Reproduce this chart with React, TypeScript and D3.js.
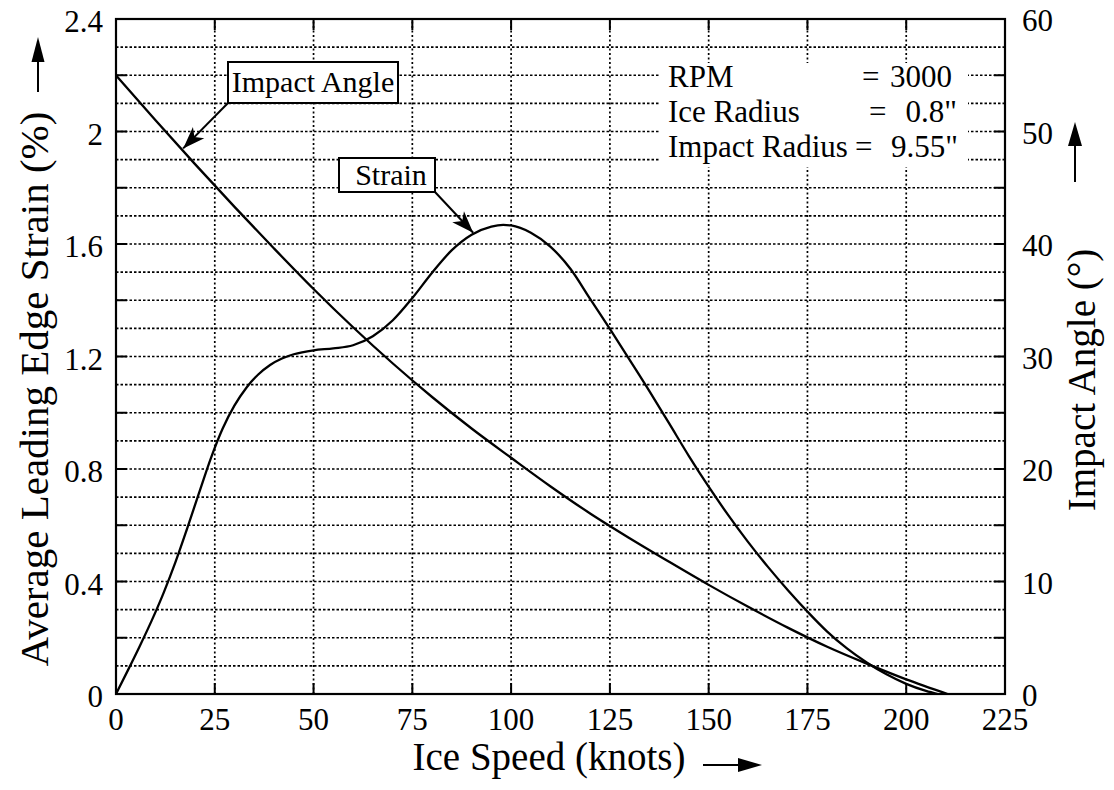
import React from 'react';
import * as d3 from 'd3';

// ---- Data ----
const strainSpeed = [0, 3, 6, 9, 12, 15, 18, 21, 24, 27, 30, 33, 36, 39, 42, 45, 50, 55, 60, 65, 70, 75, 80, 85, 90, 95, 98, 100, 105, 110, 115, 120, 125, 130, 135, 140, 145, 150, 155, 160, 165, 170, 175, 180, 185, 190, 195, 200, 205, 208];
const strainValues = [0, 0.084, 0.17, 0.26, 0.358, 0.467, 0.588, 0.714, 0.838, 0.944, 1.026, 1.089, 1.136, 1.17, 1.193, 1.208, 1.222, 1.229, 1.24, 1.272, 1.328, 1.408, 1.498, 1.578, 1.633, 1.662, 1.668, 1.666, 1.64, 1.59, 1.512, 1.405, 1.298, 1.188, 1.077, 0.962, 0.846, 0.737, 0.635, 0.54, 0.452, 0.37, 0.293, 0.222, 0.162, 0.112, 0.07, 0.036, 0.011, 0];

const angleSpeed = [0, 10, 20, 30, 40, 50, 60, 70, 80, 90, 100, 110, 120, 130, 140, 150, 160, 170, 180, 190, 200, 210.5];
const angleValues = [55, 51, 47.1, 43.3, 39.6, 36.0, 32.6, 29.4, 26.4, 23.6, 21.0, 18.45, 16.05, 13.85, 11.75, 9.7, 7.75, 5.9, 4.2, 2.7, 1.3, 0];

const xTicks = [0, 25, 50, 75, 100, 125, 150, 175, 200, 225];
const yTicks = [0, 0.4, 0.8, 1.2, 1.6, 2, 2.4];
const yTickLabels = ['0', '0.4', '0.8', '1.2', '1.6', '2', '2.4'];
const yRTicks = [0, 10, 20, 30, 40, 50, 60];

const infoLabels = ['RPM', 'Ice Radius', 'Impact Radius'];
const infoValues = ['3000', '0.8"', '9.55"'];

const FONT = "'Liberation Serif','Times New Roman',serif";

function arrowHead(tx: number, ty: number, fx: number, fy: number, len: number, w: number, notch: number) {
  const dx = tx - fx, dy = ty - fy;
  const L = Math.hypot(dx, dy);
  const ux = dx / L, uy = dy / L;
  const nx = -uy, ny = ux;
  const bx = tx - ux * len, by = ty - uy * len;
  const p1 = [bx + nx * w, by + ny * w];
  const p2 = [tx - ux * (len - notch), ty - uy * (len - notch)];
  const p3 = [bx - nx * w, by - ny * w];
  return `M${tx},${ty}L${p1[0]},${p1[1]}L${p2[0]},${p2[1]}L${p3[0]},${p3[1]}Z`;
}

export default function App() {
  const x = d3.scaleLinear().domain([0, 225]).range([116, 1005]);
  const y = d3.scaleLinear().domain([0, 2.4]).range([694, 19]);
  const yR = d3.scaleLinear().domain([0, 60]).range([694, 19]);

  const strainLine = d3.line<number>()
    .x((_, i) => x(strainSpeed[i]))
    .y(d => y(d))
    .curve(d3.curveMonotoneX);
  const angleLine = d3.line<number>()
    .x((_, i) => x(angleSpeed[i]))
    .y(d => yR(d))
    .curve(d3.curveMonotoneX);

  const hGrid = d3.range(1, 24).map(i => i / 10);
  const vGrid = d3.range(1, 9).map(i => i * 25);
  const leftMinor = d3.range(1, 12).map(i => i * 0.2);
  const rightMinor = d3.range(1, 12).map(i => i * 5);

  const [x0, x1] = x.range();
  const [y0, y1] = y.range();

  // annotation anchors (data space)
  const iaTip = { x: x(17), y: y(1.94) };
  const iaBox = { x: 228, y: 62, w: 170, h: 41 };
  const stTip = { x: x(90.4), y: y(1.64) };
  const stBox = { x: 339, y: 158, w: 96, h: 34 };

  return (
    <svg width={1114} height={790} style={{ position: 'absolute', left: 0, top: 0, display: 'block', background: '#fff' }} fontFamily={FONT}>
      <rect x={0} y={0} width={1114} height={790} fill="#fff" />
      {/* grid */}
      {hGrid.map(v => (
        <line key={'h' + v} x1={x0} x2={x1} y1={y(v)} y2={y(v)} stroke="#000" strokeWidth={1.7} strokeDasharray="2.5,2" />
      ))}
      {vGrid.map(v => (
        <line key={'v' + v} x1={x(v)} x2={x(v)} y1={y0} y2={y1} stroke="#000" strokeWidth={1.7} strokeDasharray="2,2.5" />
      ))}
      {/* ticks */}
      {leftMinor.map(v => (
        <line key={'lt' + v} x1={x0} x2={x0 + 11} y1={y(v)} y2={y(v)} stroke="#000" strokeWidth={2} />
      ))}
      {rightMinor.map(v => (
        <line key={'rt' + v} x1={x1} x2={x1 - 11} y1={yR(v)} y2={yR(v)} stroke="#000" strokeWidth={2} />
      ))}
      {vGrid.map(v => (
        <g key={'bt' + v}>
          <line x1={x(v)} x2={x(v)} y1={y0} y2={y0 - 11} stroke="#000" strokeWidth={2} />
          <line x1={x(v)} x2={x(v)} y1={y1} y2={y1 + 11} stroke="#000" strokeWidth={2} />
        </g>
      ))}

      {/* info box */}
      <rect x={660} y={63} width={308} height={104} fill="#fff" />
      {infoLabels.map((t, i) => (
        <text key={'il' + i} x={668} y={87 + i * 35} fontSize={31}>{t}</text>
      ))}
      {infoValues.map((t, i) => (
        <text key={'iv' + i} x={[952, 957, 958][i]} y={87 + i * 35} fontSize={31} textAnchor="end">{t}</text>
      ))}
      {[862, 869, 855].map((ex, i) => (
        <text key={'ie' + i} x={ex} y={87 + i * 35} fontSize={31}>=</text>
      ))}

      {/* curves */}
      <path d={angleLine(angleValues) || ''} fill="none" stroke="#000" strokeWidth={2.3} />
      <path d={strainLine(strainValues) || ''} fill="none" stroke="#000" strokeWidth={2.3} />

      {/* frame */}
      <rect x={x0} y={y1} width={x1 - x0} height={y0 - y1} fill="none" stroke="#000" strokeWidth={2.2} />

      {/* annotations */}
      <line x1={iaBox.x} y1={iaBox.y + iaBox.h} x2={iaTip.x} y2={iaTip.y} stroke="#000" strokeWidth={2} />
      <path d={arrowHead(iaTip.x, iaTip.y, iaBox.x, iaBox.y + iaBox.h, 22, 8, 6)} fill="#000" />
      <rect x={iaBox.x} y={iaBox.y} width={iaBox.w} height={iaBox.h} fill="#fff" stroke="#000" strokeWidth={2} />
      <text x={iaBox.x + iaBox.w / 2} y={iaBox.y + 30} fontSize={30} textAnchor="middle">Impact Angle</text>

      <line x1={stBox.x + stBox.w} y1={stBox.y + stBox.h} x2={stTip.x} y2={stTip.y} stroke="#000" strokeWidth={2} />
      <path d={arrowHead(stTip.x, stTip.y, stBox.x + stBox.w, stBox.y + stBox.h, 22, 8, 6)} fill="#000" />
      <rect x={stBox.x} y={stBox.y} width={stBox.w} height={stBox.h} fill="#fff" stroke="#000" strokeWidth={2} />
      <text x={stBox.x + stBox.w / 2 + 4} y={stBox.y + 27} fontSize={30} textAnchor="middle">Strain</text>

      {/* tick labels */}
      {xTicks.map(v => (
        <text key={'xl' + v} x={x(v)} y={y0 + 36} fontSize={31} textAnchor="middle">{v}</text>
      ))}
      {yTicks.map((v, i) => (
        <text key={'yl' + v} x={103} y={y(v) + 13} fontSize={31} textAnchor="end">{yTickLabels[i]}</text>
      ))}
      {yRTicks.map(v => (
        <text key={'yr' + v} x={1022} y={yR(v) + 12} fontSize={31} textAnchor="start">{v}</text>
      ))}

      {/* axis titles */}
      <text x={549} y={770} fontSize={39} textAnchor="middle">Ice Speed (knots)</text>
      <line x1={703} x2={740} y1={765} y2={765} stroke="#000" strokeWidth={2} />
      <path d={arrowHead(762, 765, 703, 765, 24, 7, 0)} fill="#000" />

      <text transform="translate(48,389) rotate(-90)" fontSize={41} textAnchor="middle">Average Leading Edge Strain (%)</text>
      <line x1={38} x2={38} y1={92} y2={60} stroke="#000" strokeWidth={2} />
      <path d={arrowHead(38, 37, 38, 92, 25, 6.5, 0)} fill="#000" />

      <text transform="translate(1095,380) rotate(-90)" fontSize={39} textAnchor="middle">Impact Angle (°)</text>
      <line x1={1075} x2={1075} y1={182} y2={140} stroke="#000" strokeWidth={2} />
      <path d={arrowHead(1075, 122, 1075, 182, 24, 7, 0)} fill="#000" />
    </svg>
  );
}
